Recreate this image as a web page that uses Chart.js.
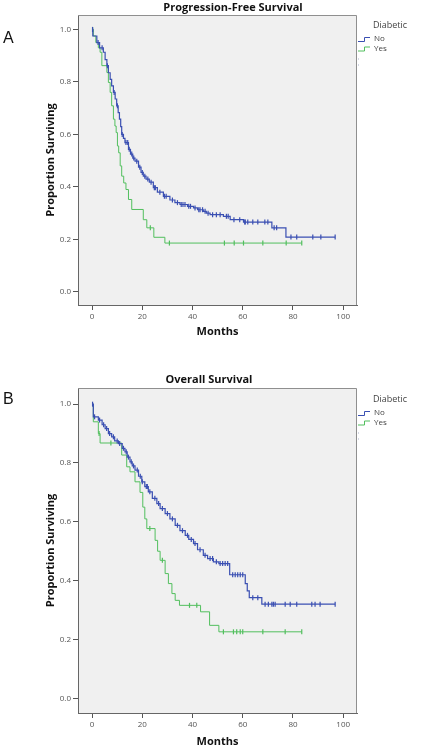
<!DOCTYPE html>
<html>
<head>
<meta charset="utf-8">
<script src="https://cdn.jsdelivr.net/npm/chart.js@4.4.1/dist/chart.umd.min.js"></script>
<style>
  html, body { margin: 0; padding: 0; background: #fff; width: 422px; height: 750px; overflow: hidden; }
  .panel { position: absolute; left: 0; width: 422px; }
  .tag { position: absolute; left: 3px; font: 16px 'Liberation Sans', Arial, sans-serif; color: #111; }
</style>
</head>
<body>
<div class="panel" style="top:0;height:345px"><canvas id="pfsChart"></canvas></div>
<div class="panel" style="top:370px;height:380px"><canvas id="osChart"></canvas></div>
<div class="tag" style="top:29px">A</div>
<div class="tag" style="top:390px">B</div>
<script>
const xTicks = [0, 20, 40, 60, 80, 100];
const yTicks = [0, 0.2, 0.4, 0.6, 0.8, 1.0];
const groups = ['No', 'Yes'];
const legendTitle = 'Diabetic';
const xTitle = 'Months';
const yTitle = 'Proportion Surviving';

// A: progression-free survival (event months / survival after the step / censored months)
const pfsNoMonths = [0, 0.3, 1.9, 3.0, 4.5, 5.2, 5.9, 6.5, 7.2, 7.8, 8.5, 9.2, 9.8, 10.4, 10.9, 11.4, 11.8, 12.5, 13.1, 14.5,
  15.3, 16.2, 17.1, 18.5, 19.5, 20.4, 21.5, 22.8, 24.4, 26.0, 28.4, 31.0, 33.0, 35.0, 38.0, 40.4, 42.0, 44.3, 45.5, 47.0,
  52.3, 55.0, 60.3, 71.6, 77.2];
const pfsNoSurv = [1.0, 0.975, 0.95, 0.93, 0.913, 0.885, 0.862, 0.835, 0.81, 0.785, 0.76, 0.735, 0.709, 0.683, 0.658, 0.63, 0.60, 0.585, 0.569, 0.543,
  0.525, 0.51, 0.498, 0.475, 0.455, 0.441, 0.43, 0.418, 0.397, 0.38, 0.364, 0.35, 0.34, 0.333, 0.326, 0.32, 0.313, 0.307, 0.30, 0.294,
  0.288, 0.275, 0.266, 0.244, 0.209];
const pfsNoCensor = [0.2, 2.4, 4.0, 6.1, 8.8, 10.1, 12.0, 13.5, 14.2, 14.8, 15.8, 16.6, 17.8, 19.0, 20.0, 21.0, 22.2, 23.5, 24.8, 25.2,
  27.0, 28.8, 29.5, 32.0, 34.0, 35.5, 36.2, 37.0, 38.5, 39.2, 41.0, 42.5, 43.0, 44.0, 45.0, 46.2, 48.0, 49.5, 51.0, 53.5,
  54.2, 56.5, 58.8, 60.8, 61.0, 62.0, 64.0, 66.0, 68.8, 70.0, 72.5, 73.5, 79.2, 81.5, 87.9, 91.1, 96.8];
const pfsYesMonths = [0, 0.5, 1.5, 2.5, 3.2, 3.9, 5.9, 6.5, 7.2, 7.8, 8.5, 9.1, 9.6, 10.1, 10.6, 11.2, 11.8, 12.6, 13.5, 14.5,
  15.8, 20.4, 21.8, 24.6, 29.0];
const pfsYesSurv = [1.0, 0.975, 0.95, 0.93, 0.913, 0.862, 0.836, 0.798, 0.76, 0.709, 0.658, 0.632, 0.607, 0.556, 0.53, 0.48, 0.441, 0.415, 0.39, 0.352,
  0.314, 0.275, 0.244, 0.208, 0.186];
const pfsYesCensor = [0.2, 23.2, 30.8, 52.7, 56.6, 60.3, 68.0, 77.3, 83.5];

// B: overall survival
const osNoMonths = [0, 0.5, 2.5, 4.0, 5.2, 6.5, 7.8, 9.0, 10.5, 12.0, 13.1, 14.0, 15.1, 16.0, 17.1, 18.5, 19.8, 21.0, 22.4, 24.0,
  25.8, 27.1, 29.1, 31.0, 33.1, 35.0, 37.1, 38.5, 40.4, 42.0, 44.3, 46.0, 48.3, 50.5, 54.8, 61.0, 61.8, 62.6, 67.6];
const osNoSurv = [1.0, 0.957, 0.946, 0.93, 0.917, 0.90, 0.889, 0.875, 0.866, 0.85, 0.838, 0.82, 0.804, 0.79, 0.776, 0.755, 0.736, 0.72, 0.702, 0.68,
  0.662, 0.645, 0.628, 0.61, 0.588, 0.57, 0.554, 0.54, 0.526, 0.505, 0.486, 0.475, 0.464, 0.458, 0.42, 0.39, 0.365, 0.342, 0.32];
const osNoCensor = [0.2, 1.0, 3.0, 4.6, 5.8, 7.0, 8.5, 10.0, 11.0, 12.5, 13.6, 14.5, 15.6, 16.5, 18.0, 19.2, 20.0, 21.6, 22.0, 23.0,
  25.0, 26.5, 28.0, 30.0, 32.0, 34.0, 36.0, 38.0, 39.5, 41.0, 43.0, 45.0, 47.0, 48.0, 49.5, 51.0, 52.0, 53.0, 54.0, 56.0,
  57.0, 58.0, 59.0, 60.0, 64.0, 66.0, 68.9, 70.2, 71.6, 72.2, 72.9, 76.9, 78.9, 81.5, 87.5, 88.8, 90.8, 96.8];
const osYesMonths = [0, 0.5, 2.5, 3.2, 11.8, 13.8, 15.1, 17.1, 19.1, 20.2, 21.0, 21.8, 25.1, 26.1, 27.1, 29.1, 30.4, 31.8, 33.1, 34.8,
  43.2, 46.8, 50.5];
const osYesSurv = [1.0, 0.94, 0.90, 0.868, 0.827, 0.787, 0.77, 0.736, 0.70, 0.65, 0.61, 0.577, 0.537, 0.50, 0.469, 0.424, 0.39, 0.356, 0.333, 0.316,
  0.294, 0.248, 0.226];
const osYesCensor = [2.8, 7.5, 23.0, 28.0, 38.8, 41.7, 52.3, 56.3, 57.6, 59.0, 60.0, 68.0, 76.9, 83.5];

const colors = { No: '#3a4fb2', Yes: '#52bf5e' };

// step curve points, carried on to the last censored month
function kmLine(months, surv, censor) {
  const pts = months.map((m, i) => ({ x: m, y: surv[i] }));
  const last = Math.max(...censor);
  if (last > months[months.length - 1]) pts.push({ x: last, y: surv[surv.length - 1] });
  return pts;
}

// censor ticks sit on the curve
function kmCensor(months, surv, censor) {
  return censor.map(c => {
    let s = surv[0];
    months.forEach((m, i) => { if (m <= c) s = surv[i]; });
    return { x: c, y: s };
  });
}

const panelDecor = {
  id: 'panelDecor',
  beforeDraw(chart) {
    const { ctx, chartArea: a } = chart;
    ctx.save();
    ctx.fillStyle = '#f0f0f0';
    ctx.fillRect(a.left, a.top, a.right - a.left, a.bottom - a.top);
    ctx.restore();
  },
  afterDraw(chart, args, opts) {
    const { ctx, chartArea: a } = chart;
    ctx.save();
    ctx.strokeStyle = '#8f8f8f';
    ctx.lineWidth = 1;
    ctx.beginPath();
    ctx.moveTo(a.left, a.top + 0.5);
    ctx.lineTo(a.right - 0.5, a.top + 0.5);
    ctx.lineTo(a.right - 0.5, a.bottom);
    ctx.stroke();

    ctx.fillStyle = '#111';
    ctx.font = "bold 11px 'Open Sans', sans-serif";
    ctx.textAlign = 'center';
    ctx.textBaseline = 'middle';
    ctx.fillText(opts.title, opts.titleX, opts.titleY);

    // legend
    const lx = a.right + 16;
    const ly = a.top + opts.legendOffset;
    ctx.textAlign = 'left';
    ctx.fillStyle = '#444';
    ctx.font = "9px 'Open Sans', sans-serif";
    ctx.fillText(legendTitle, lx, ly);
    ctx.font = "8px 'Open Sans', sans-serif";
    groups.forEach((g, i) => {
      const y = ly + 14 + i * 9.5;
      ctx.strokeStyle = colors[g];
      ctx.beginPath();
      ctx.moveTo(a.right + 1, y + 2.5);
      ctx.lineTo(a.right + 7.5, y + 2.5);
      ctx.lineTo(a.right + 7.5, y - 1.5);
      ctx.lineTo(a.right + 13, y - 1.5);
      ctx.stroke();
      ctx.fillStyle = '#444';
      ctx.fillText(g, lx + 1, y);
    });
    ctx.strokeStyle = '#d4d8e4';
    [33, 39].forEach(d => {
      ctx.beginPath();
      ctx.moveTo(a.right + 1.5, ly + d);
      ctx.lineTo(a.right + 1.5, ly + d + 2);
      ctx.stroke();
    });
    ctx.restore();
  }
};

function makeChart(canvasId, no, yes, panel) {
  const ctx = document.getElementById(canvasId).getContext('2d');
  const line = (g, pts) => ({
    label: g, data: pts, showLine: true, stepped: true,
    borderColor: colors[g], borderWidth: g === 'No' ? 1.2 : 1, pointRadius: 0, fill: false
  });
  const ticksDs = (g, pts) => ({
    label: g + ' censored', data: pts, showLine: false,
    pointStyle: 'line', rotation: 90, pointRadius: 2.5,
    borderColor: colors[g], borderWidth: 1.2
  });
  return new Chart(ctx, {
    type: 'scatter',
    data: {
      datasets: [
        line('No', kmLine(...no)),
        ticksDs('No', kmCensor(...no)),
        line('Yes', kmLine(...yes)),
        ticksDs('Yes', kmCensor(...yes))
      ]
    },
    options: {
      responsive: true,
      maintainAspectRatio: false,
      animation: false,
      layout: { padding: { top: panel.top, right: 65, left: 0, bottom: 0 } },
      plugins: {
        legend: { display: false },
        tooltip: { enabled: false },
        panelDecor: panel
      },
      scales: {
        x: {
          type: 'linear', min: -5.6, max: 105.5,
          afterBuildTicks: s => { s.ticks = xTicks.map(v => ({ value: v })); },
          afterFit: s => { s.height = panel.xHeight; },
          grid: { drawOnChartArea: false, drawTicks: true, tickLength: 5, color: '#555' },
          border: { display: true, color: '#666' },
          ticks: { color: '#555', padding: 2, maxRotation: 0, font: { family: "'Open Sans', sans-serif", size: 8 } },
          title: {
            display: true, text: xTitle, color: '#111',
            font: { family: "'Open Sans', sans-serif", size: 11, weight: 'bold' },
            padding: { top: 0, bottom: panel.xTitlePad }
          }
        },
        y: {
          type: 'linear', min: -0.05, max: 1.055,
          afterBuildTicks: s => { s.ticks = yTicks.map(v => ({ value: v })); },
          afterFit: s => { s.width = 78; },
          grid: { drawOnChartArea: false, drawTicks: true, tickLength: 5, color: '#555' },
          border: { display: true, color: '#666' },
          ticks: { color: '#555', padding: 2, callback: v => Number(v).toFixed(1), font: { family: "'Open Sans', sans-serif", size: 8 } },
          title: {
            display: true, text: yTitle, color: '#111',
            font: { family: "'Open Sans', sans-serif", size: 11, weight: 'bold' },
            padding: { top: 44.4, bottom: 0 }
          }
        }
      }
    },
    plugins: [panelDecor]
  });
}

makeChart('pfsChart',
  [pfsNoMonths, pfsNoSurv, pfsNoCensor],
  [pfsYesMonths, pfsYesSurv, pfsYesCensor],
  { title: 'Progression-Free Survival', titleX: 233, titleY: 8, top: 15, xHeight: 40, xTitlePad: 6.4, legendOffset: 10 });

makeChart('osChart',
  [osNoMonths, osNoSurv, osNoCensor],
  [osYesMonths, osYesSurv, osYesCensor],
  { title: 'Overall Survival', titleX: 209, titleY: 10, top: 18, xHeight: 37, xTitlePad: 1.4, legendOffset: 11 });
</script>
</body>
</html>
